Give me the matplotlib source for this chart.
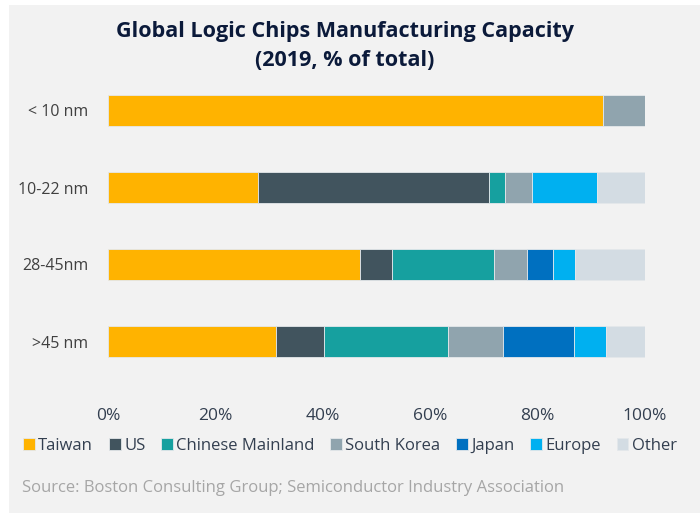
import matplotlib.pyplot as plt
from matplotlib.patches import Rectangle

plt.rcParams['font.family'] = ['Open Sans', 'DejaVu Sans']

nodes = ["< 10 nm", "10-22 nm", "28-45nm", ">45 nm"]
regions = ["Taiwan", "US", "Chinese Mainland", "South Korea", "Japan", "Europe", "Other"]
colores = ["#FFB300", "#41545E", "#16A09F", "#90A4AE", "#0070C0", "#00B0F0", "#D3DCE3"]

taiwan = [92.2, 27.9, 46.9, 31.3]
us = [0, 43.0, 6.0, 8.9]
china = [0, 3.0, 19.0, 23.2]
korea = [7.8, 5.0, 6.1, 10.2]
japan = [0, 0, 4.9, 13.1]
europe = [0, 12.1, 4.0, 6.1]
other = [0, 9.0, 13.1, 7.2]
series = [taiwan, us, china, korea, japan, europe, other]

fig = plt.figure(figsize=(7, 5.13), dpi=100)
fig.patch.set_facecolor("white")
fig.patches.append(Rectangle((9 / 700, 0), 1, 1 - 5 / 513, transform=fig.transFigure,
                             facecolor="#F2F2F2", edgecolor="none", zorder=-1))

ax = fig.add_axes([108 / 700, 1 - 380 / 513, 537 / 700, 308 / 513])
ax.set_facecolor("none")

ypos = list(range(len(nodes)))
left = [0] * len(nodes)
for nome, vals, cor in zip(regions, series, colores):
    ax.barh(ypos, vals, left=left, height=0.4, color=cor, edgecolor="#E4E8EB",
            linewidth=0.6, label=nome)
    left = [a + b for a, b in zip(left, vals)]

ax.set_ylim(3.5, -0.5)
ax.set_xlim(0, 100)
ax.set_yticks(ypos)
ax.set_yticklabels(nodes, fontsize=11.5, color="#404040")
ax.set_xticks([0, 20, 40, 60, 80, 100])
ax.set_xticklabels(["0%", "20%", "40%", "60%", "80%", "100%"], fontsize=12.5, color="#333F50")
ax.tick_params(axis="both", length=0)
ax.tick_params(axis="x", pad=20)
ax.tick_params(axis="y", pad=14)
for s in ax.spines.values():
    s.set_visible(False)

fig.text(0.493, 1 - 32 / 513, "Global Logic Chips Manufacturing Capacity", ha="center", va="center",
         fontsize=15.5, fontweight="bold", color="#0B1A3A")
fig.text(0.493, 1 - 60 / 513, "(2019, % of total)", ha="center", va="center",
         fontsize=15.5, fontweight="bold", color="#0B1A3A")

fig.legend(loc="center", bbox_to_anchor=(0.5, 1 - 446 / 513), ncol=7, frameon=False,
           fontsize=12, handlelength=0.7, handleheight=0.7, handletextpad=0.2,
           columnspacing=0.95, labelcolor="#333F50")

fig.text(22 / 700, 1 - 488 / 513, "Source: Boston Consulting Group; Semiconductor Industry Association",
         ha="left", va="center", fontsize=12, color="#A6A6A6")

fig.savefig("out.png", dpi=100)
